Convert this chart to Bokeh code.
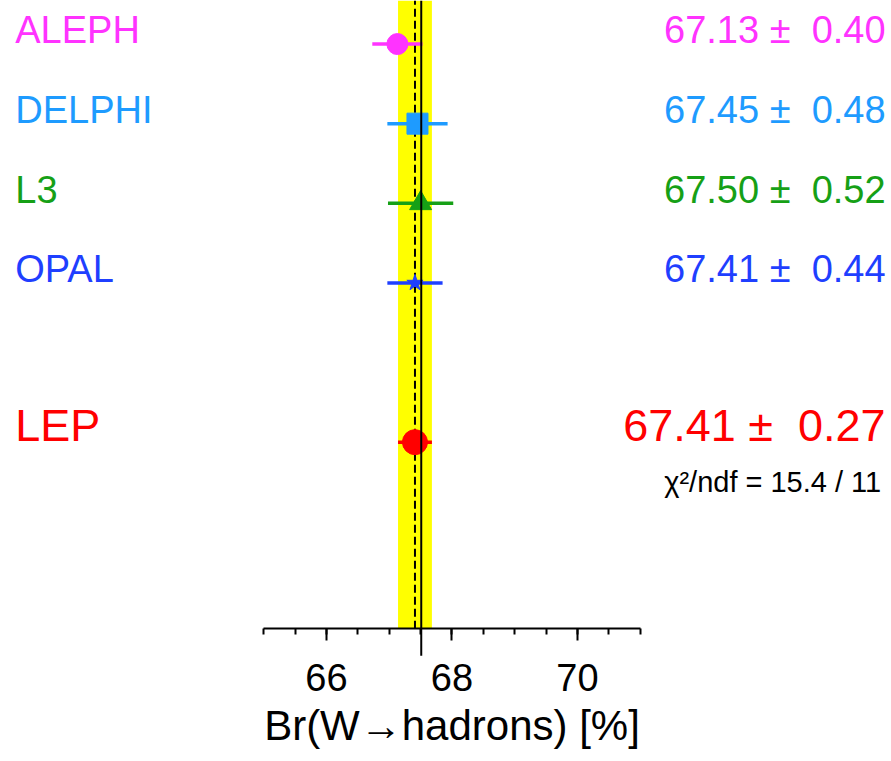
from bokeh.plotting import figure
from bokeh.models import Range1d, LinearAxis, FixedTicker
from bokeh.core.properties import value
from bokeh.embed import file_html
from bokeh.resources import INLINE

# ---- data ----
experiments = ["ALEPH", "DELPHI", "L3", "OPAL"]
br_values = [67.13, 67.45, 67.50, 67.41]
br_errors = [0.40, 0.48, 0.52, 0.44]
row_pos = [5, 4, 3, 2]
colors = ["#ff33ff", "#1e9bff", "#16a016", "#1f3fff"]
markers = ["circle", "square", "triangle", "star"]
marker_sizes = [21, 21, 22, 17]

lep_name = "LEP"
lep_value = 67.41
lep_error = 0.27
lep_row = 0
lep_color = "#ff0000"
chi2_text = "\u03c7\u00b2/ndf = 15.4 / 11"
sm_value = 67.51

major_ticks = [66, 68, 70]
minor_ticks = [65 + 0.5 * i for i in range(13)]
axis_bounds = (65, 71)

# ---- layout ----
W, H = 891, 761
x_lo, x_hi = 60.805, 75.004
y_lo, y_hi = -4.011, 5.547
axis_y = -2.343
sm_line_bottom = -2.682
name_x = 61.04
value_x = 74.91
chi2_x = 74.84
chi2_y = -0.634

FONT = "Liberation Sans"


def fmt(v, e):
    # two spaces after the plus-minus sign (second one non-breaking so SVG keeps it)
    return f"{v:.2f} \u00b1 \u00a0{e:.2f}"


def add_text(x, y, txt, color, size, align):
    # shift so that the text's baseline sits on the row position
    p.text(x=[x], y=[y], text=[txt], text_color=color,
           text_font=value(FONT), text_font_size=f"{size}px",
           text_align=align, text_baseline="alphabetic",
           y_offset=-0.36 * size)


p = figure(width=W, height=H, output_backend="svg", toolbar_location=None,
           x_range=Range1d(x_lo, x_hi), y_range=Range1d(y_lo, y_hi),
           x_axis_location=None, y_axis_location=None,
           min_border=0, outline_line_color=None)
p.xgrid.visible = False
p.ygrid.visible = False
p.background_fill_color = "white"
p.border_fill_color = "white"

# yellow band of the LEP average
p.quad(left=[lep_value - lep_error], right=[lep_value + lep_error],
       bottom=[axis_y], top=[y_hi], fill_color="#ffff00", line_color=None)
# dashed LEP average line
p.segment(x0=[lep_value], x1=[lep_value], y0=[axis_y], y1=[y_hi],
          line_color="black", line_width=2, line_dash="8 4")

# experiments
for name, v, e, r, c, m, s in zip(experiments, br_values, br_errors, row_pos,
                                  colors, markers, marker_sizes):
    p.segment(x0=[v - e], x1=[v + e], y0=[r], y1=[r], line_color=c, line_width=3.5)
    p.scatter(x=[v], y=[r], marker=m, size=s, fill_color=c, line_color=c)
    add_text(name_x, r, name, c, 38, "left")
    add_text(value_x, r, fmt(v, e), c, 38, "right")

# LEP average
p.segment(x0=[lep_value - lep_error], x1=[lep_value + lep_error], y0=[lep_row], y1=[lep_row],
          line_color=lep_color, line_width=3.5)
p.scatter(x=[lep_value], y=[lep_row], marker="circle", size=25,
          fill_color=lep_color, line_color=lep_color)
add_text(name_x, lep_row, lep_name, lep_color, 45, "left")
add_text(value_x, lep_row, fmt(lep_value, lep_error), lep_color, 45, "right")
add_text(chi2_x, chi2_y, chi2_text, "black", 29, "right")

# solid reference line (drawn above the markers)
p.segment(x0=[sm_value], x1=[sm_value], y0=[sm_line_bottom], y1=[y_hi],
          line_color="black", line_width=2)

# x axis
ax = LinearAxis(fixed_location=axis_y, bounds=axis_bounds,
                ticker=FixedTicker(ticks=major_ticks, minor_ticks=minor_ticks),
                axis_label="Br(W\u2192hadrons) [%]")
ax.axis_line_width = 2
ax.major_tick_line_width = 2
ax.minor_tick_line_width = 2
ax.major_tick_in = 0
ax.major_tick_out = 12
ax.minor_tick_in = 0
ax.minor_tick_out = 6
ax.major_label_text_font = FONT
ax.major_label_text_font_size = "38px"
ax.major_label_text_color = "black"
ax.major_label_standoff = 23
ax.axis_label_text_font = FONT
ax.axis_label_text_font_size = "42px"
ax.axis_label_text_font_style = "normal"
ax.axis_label_text_color = "black"
ax.axis_label_standoff = 8
p.add_layout(ax, "below")

open("out.html", "w").write(file_html(p, INLINE))
